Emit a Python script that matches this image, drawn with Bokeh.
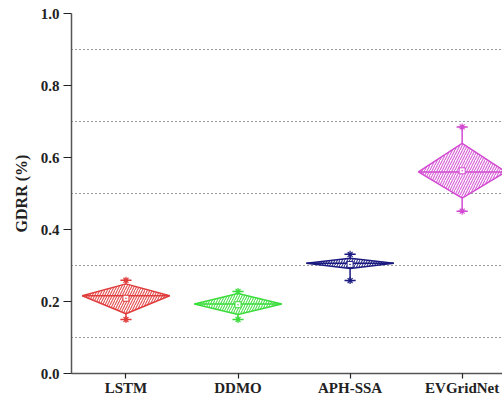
from bokeh.plotting import figure
from bokeh.models import Range1d, FixedTicker, NumeralTickFormatter
from bokeh.embed import file_html
from bokeh.resources import INLINE

categories = ["LSTM", "DDMO", "APH-SSA", "EVGridNet"]
colors = ["#e03c3c", "#3cdc3c", "#1a1a80", "#d24bd2"]
median_vals = [0.216, 0.193, 0.306, 0.560]
q3_vals = [0.249, 0.222, 0.320, 0.639]
q1_vals = [0.166, 0.164, 0.292, 0.487]
max_vals = [0.259, 0.228, 0.331, 0.685]
min_vals = [0.150, 0.150, 0.258, 0.451]
mean_vals = [0.209, 0.191, 0.303, 0.563]
y_ticks = [0.0, 0.2, 0.4, 0.6, 0.8, 1.0]
grid_ticks = [0.1, 0.3, 0.5, 0.7, 0.9]

pos = [i + 1 for i in range(len(categories))]
half = 0.39
cap = 0.05

p = figure(width=502, height=398, output_backend="svg", toolbar_location=None,
           x_range=Range1d(0.514, 4.36), y_range=Range1d(0.0, 1.0),
           min_border_left=71, min_border_top=13, min_border_bottom=20, min_border_right=0)
p.outline_line_color = None

# grid
p.xgrid.grid_line_color = None
p.ygrid.ticker = FixedTicker(ticks=grid_ticks)
p.ygrid.grid_line_color = "#333333"
p.ygrid.grid_line_dash = "1 3"
p.ygrid.grid_line_width = 1

# axes
font = "Liberation Serif"
p.yaxis.ticker = FixedTicker(ticks=y_ticks)
p.yaxis.formatter = NumeralTickFormatter(format="0.0")
p.xaxis.ticker = FixedTicker(ticks=pos)
p.xaxis.major_label_overrides = {pp: c for pp, c in zip(pos, categories)}
for ax in (p.xaxis, p.yaxis):
    ax.axis_line_color = "#555555"
    ax.axis_line_width = 1.5
    ax.major_tick_line_color = "#222222"
    ax.major_tick_line_width = 1.2
    ax.minor_tick_line_color = None
    ax.major_tick_in = 0
    ax.major_label_text_font = font
    ax.major_label_text_font_style = "bold"
    ax.major_label_text_font_size = "15px"
    ax.major_label_text_color = "#222222"
p.yaxis.major_tick_out = 8
p.yaxis.major_label_standoff = 4
p.xaxis.major_tick_out = 5
p.xaxis.major_label_standoff = 1
p.yaxis.axis_label = "GDRR (%)"
p.yaxis.axis_label_text_font = font
p.yaxis.axis_label_text_font_style = "bold"
p.yaxis.axis_label_text_font_size = "16px"
p.yaxis.axis_label_text_color = "#222222"
p.yaxis.axis_label_standoff = 8

for x, c, md, q3, q1, mx, mn, mean in zip(pos, colors, median_vals, q3_vals, q1_vals,
                                          max_vals, min_vals, mean_vals):
    # whiskers
    p.segment(x0=[x, x], y0=[q3, q1], x1=[x, x], y1=[mx, mn], line_color=c, line_width=1.5)
    p.segment(x0=[x - cap, x - cap], y0=[mx, mn], x1=[x + cap, x + cap], y1=[mx, mn],
              line_color=c, line_width=1.5)
    p.scatter(x=[x, x], y=[mx, mn], marker="asterisk", size=7, line_color=c, line_width=1.2)
    # diamond
    p.patch(x=[x - half, x, x + half, x], y=[md, q3, md, q1],
            fill_color="white", line_color=c, line_width=1.5,
            hatch_pattern="right_diagonal_line", hatch_color=c, hatch_scale=5,
            hatch_weight=1.1, hatch_alpha=0.9)
    # median line
    p.segment(x0=[x - half], y0=[md], x1=[x + half], y1=[md], line_color=c, line_width=1.5)
    # mean
    p.scatter(x=[x], y=[mean], marker="square_dot", size=6, fill_color="white",
              line_color=c, line_width=1)

open("out.html", "w").write(file_html(p, INLINE))
